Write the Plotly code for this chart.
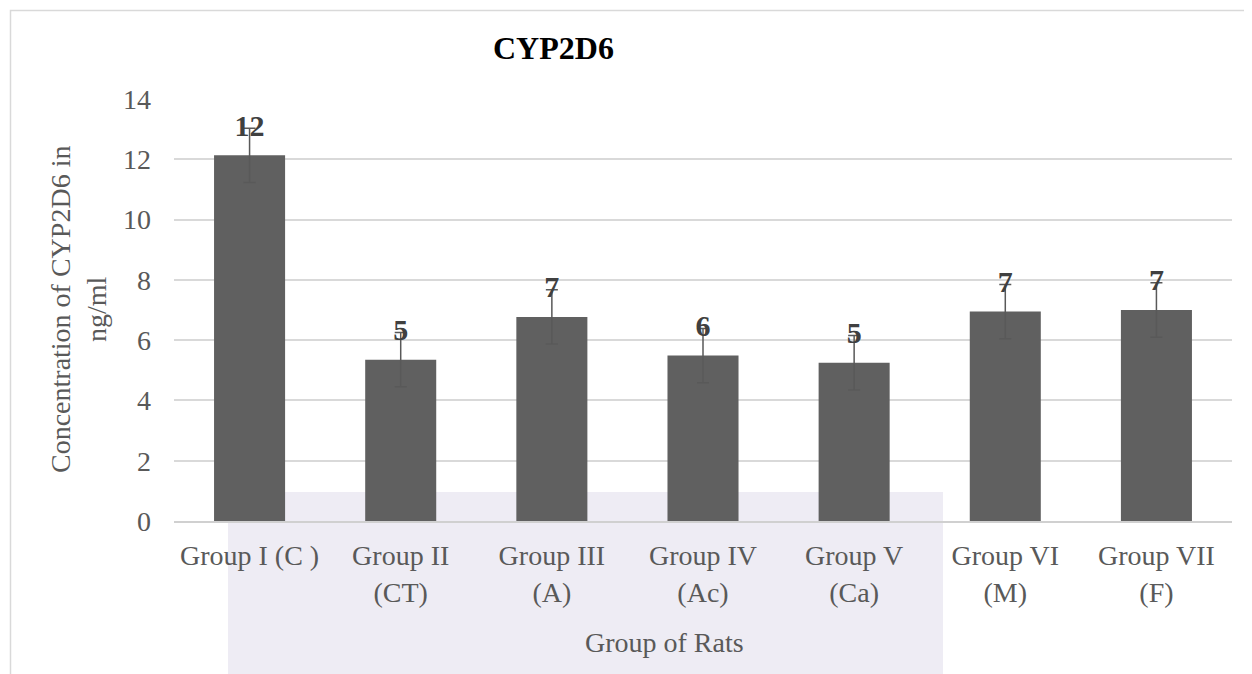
import plotly.graph_objects as go

# ---- data ----
categories = ["Group I (C )", "Group II<br>(CT)", "Group III<br>(A)", "Group IV<br>(Ac)",
              "Group V<br>(Ca)", "Group VI<br>(M)", "Group VII<br>(F)"]
values = [12.13, 5.35, 6.77, 5.49, 5.25, 6.95, 7.00]
errors = [0.90, 0.90, 0.90, 0.90, 0.90, 0.90, 0.90]
labels = ["12", "5", "7", "6", "5", "7", "7"]
y_ticks = [0, 2, 4, 6, 8, 10, 12, 14]

# ---- layout geometry (page pixels; the page body adds an 8px offset) ----
OFF = 8
W, H = 1252 - OFF, 674 - OFF
L, R, T, B = 174, 1232, 99, 521          # plot area in page pixels
PW, PH = R - L, B - T


def px(x):
    return (x - L) / PW


def py(y):
    return (B - y) / PH


FONT = "Liberation Serif, Times New Roman, serif"
GREY = "#595959"

fig = go.Figure()

fig.add_trace(go.Bar(
    x=categories, y=values,
    marker=dict(color="#606060", line=dict(width=0)),
    error_y=dict(type="data", array=errors, visible=True,
                 color=GREY, thickness=1.5, width=6),
    hoverinfo="skip", showlegend=False,
))

fig.add_trace(go.Scatter(
    x=categories, y=[v + e for v, e in zip(values, errors)],
    mode="text", text=["<b>" + t + "</b>" for t in labels],
    textposition="middle center",
    textfont=dict(family=FONT, size=30, color="#404040"),
    hoverinfo="skip", showlegend=False, cliponaxis=False,
))

fig.update_layout(
    width=W, height=H,
    margin=dict(l=L - OFF, r=1252 - R, t=T - OFF, b=674 - B, pad=0),
    paper_bgcolor="white", plot_bgcolor="white",
    bargap=0.53,
    font=dict(family=FONT, size=28, color=GREY),
    xaxis=dict(showline=True, linecolor="#d0d0d0", linewidth=1.5,
               showgrid=False, ticks="", tickfont=dict(size=28, color=GREY),
               ticklabelstandoff=9),
    yaxis=dict(range=[0, 14], tickvals=y_ticks, showgrid=True,
               gridcolor="#d9d9d9", gridwidth=1.5, zeroline=False,
               showline=False, ticks="", tickfont=dict(size=28, color=GREY),
               ticklabelstandoff=22),
    annotations=[
        dict(text="<b>CYP2D6</b>", xref="paper", yref="paper",
             x=px(553), y=py(48), xanchor="center", yanchor="middle",
             showarrow=False, font=dict(family=FONT, size=32, color="black")),
        dict(text="Concentration of CYP2D6 in<br>ng/ml", xref="paper", yref="paper",
             x=px(78), y=py(310), xanchor="center", yanchor="middle",
             textangle=-90, showarrow=False,
             font=dict(family=FONT, size=28, color=GREY)),
        dict(text="Group of Rats", xref="paper", yref="paper",
             x=px(664), y=py(642), xanchor="center", yanchor="middle",
             showarrow=False, font=dict(family=FONT, size=28, color=GREY)),
    ],
    shapes=[
        # chart outer border (extends past the right and bottom edges)
        dict(type="rect", xref="paper", yref="paper",
             x0=px(10.5), x1=px(1300), y0=py(700), y1=py(10.5),
             line=dict(color="#d9d9d9", width=1.5), fillcolor="rgba(0,0,0,0)",
             layer="below"),
        # faint watermark panel
        dict(type="rect", xref="paper", yref="paper",
             x0=px(228), x1=px(943), y0=py(700), y1=py(492),
             line=dict(width=0), fillcolor="#eeecf4", layer="below"),
    ],
)

fig.write_html("out.html")
